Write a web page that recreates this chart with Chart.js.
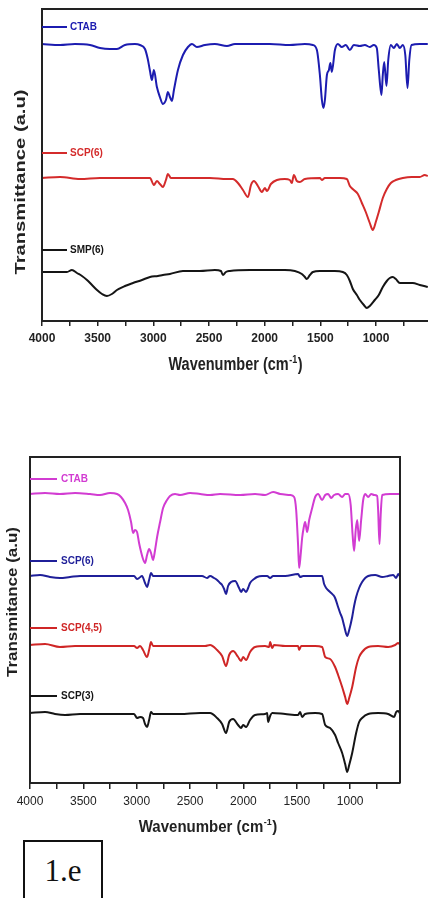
<!DOCTYPE html>
<html>
<head>
<meta charset="utf-8">
<script src="https://cdn.jsdelivr.net/npm/chart.js@4/dist/chart.umd.min.js"></script>
<style>
html,body{margin:0;padding:0;background:#fff;width:428px;height:898px;overflow:hidden;position:relative}
#c1{position:absolute;left:0;top:0}
#c2{position:absolute;left:0;top:440px}
#tag{position:absolute;left:23px;top:840px;width:80px;height:80px;border:2px solid #111;
 font-family:"Liberation Serif","Times New Roman",serif;font-size:31px;line-height:31px;
 text-align:center;padding-top:13px;box-sizing:border-box;color:#111}
</style>
</head>
<body>
<canvas id="c1" width="428" height="380"></canvas>
<canvas id="c2" width="428" height="400"></canvas>
<div id="tag">1.e</div>
<script>
// ---------- DATA (wavenumber in cm-1, transmittance in a.u., offset per curve) ----------
const xTickValues = [4000,3750,3500,3250,3000,2750,2500,2250,2000,1750,1500,1250,1000,750];

// Top panel
const topCTAB_x = [4000,3838,3704,3569,3479,3390,3327,3255,3165,3120, 3075,3050,3030,3013,2995,2968,2941,2914,2887,2869, 2851,2833,2815,2779,2734,2689,2653,2609,2537,2447, 2339,2267,2133,1953,1774,1639,1567,1531,1504,1486, 1472,1459,1441,1423,1410,1397,1369,1343,1307,1271, 1235,1199,1145,1100,1056,1020,993,975,951,939, 926,906,890,867,840,813,786,759,737,717, 701,681,607,535];
const topCTAB_y = [277,276,277,276,273,272,272,276,277,276, 272,262,250,241,251,234,224,217,221,229, 224,220,231,251,266,274,277,274,276,277, 275,277,277,277,276,277,276,271,246,221, 213,221,246,251,258,249,271,277,274,276, 271,276,275,276,274,276,273,251,226,246, 259,235,261,276,273,277,273,276,266,233, 261,276,277,277];

const topSCP6_x = [4000,3838,3659,3479,3300,3120,3030,2995,2968,2941, 2914,2887,2869,2842,2671,2492,2339,2285,2240,2195, 2150,2123,2096,2061,2025,1998,1980,1944,1890,1819, 1774,1756,1738,1711,1684,1639,1504,1486,1459,1325, 1262,1235,1199,1163,1127,1092,1056,1029,1002,975, 939,903,867,822,759,679,607,562,535];
const topSCP6_y = [143,144,142,143,143,143,143,136,140,137, 134,141,147,143,143,143,142,142,138,131, 124,136,140,135,129,133,130,137,141,142, 141,138,146,140,139,142,143,141,143,143, 142,135,131,127,118,109,98,91,99,109, 123,132,138,141,143,144,144,146,145];

const topSMP6_x = [4000,3883,3776,3731,3686,3641,3596,3551,3506,3461, 3417,3372,3327,3255,3183,3102,3030,2959,2914,2851, 2734,2582,2447,2393,2375,2348,2312,2133,1953,1819, 1729,1666,1639,1621,1594,1567,1504,1370,1298,1262, 1235,1208,1172,1145,1109,1083,1056,1011,975,939, 903,876,849,822,786,732,670,607,535];
const topSMP6_y = [49,49,49,51,48,45,41,36,31,27, 25,27,31,35,38,41,44,45,46,47, 50,50,51,50,46,49,50,51,51,51, 50,47,44,42,46,49,50,50,49,46, 40,32,26,21,16,13,15,21,26,34, 40,43,44,42,38,38,38,36,34];

const topNames = ['CTAB','SCP(6)','SMP(6)'];
const topLabelLevels = [294,168,71];

// Bottom panel
const botCTAB_x = [4000,3859,3719,3578,3438,3344,3250,3184,3147,3109, 3081,3053,3034,3016,2997,2978,2959,2941,2922,2903, 2884,2866,2847,2828,2809,2781,2753,2716,2688,2641, 2594,2500,2406,2313,2219,2031,1891,1797,1722,1656, 1563,1525,1506,1488,1478,1464,1450,1436,1422,1403, 1384,1356,1328,1300,1263,1234,1206,1178,1150,1113, 1075,1047,1019,995,977,963,948,934,916,897, 878,859,831,803,775,747,738,725,714,700, 625,531];
const botCTAB_y = [289,290,289,290,289,288,290,289,286,280, 273,261,250,253,251,240,231,224,220,228, 234,230,223,233,246,261,275,283,287,289, 288,290,289,288,289,288,289,288,291,289, 288,286,273,238,215,228,245,255,261,251, 263,275,286,289,283,288,289,285,288,289, 286,289,289,278,248,232,253,263,242,263, 283,289,286,289,288,287,273,239,268,288, 289,289];

const botSCP6_x = [4000,3906,3813,3719,3625,3531,3344,3156,3025,2997, 2978,2950,2922,2903,2884,2866,2847,2688,2500,2388, 2341,2313,2275,2247,2219,2200,2181,2163,2144,2116, 2078,2041,2022,2003,1975,1956,1938,1900,1872,1825, 1778,1750,1722,1609,1488,1469,1441,1328,1263,1244, 1225,1188,1159,1141,1113,1094,1075,1056,1028,1009, 981,963,944,916,888,859,831,766,700,644, 597,569,550,531];
const botSCP6_y = [207,208,206,205,206,207,207,207,207,204, 205,207,200,196,203,210,207,207,207,207, 205,207,205,203,200,198,194,189,197,201, 202,195,191,194,191,195,200,204,206,207, 207,205,207,207,209,206,207,207,207,199, 195,191,188,185,176,170,165,157,147,153, 166,177,186,195,201,205,207,208,206,207, 208,205,209,206];

const botSCP45_x = [4000,3859,3719,3578,3344,3156,3025,2997,2969,2941, 2903,2884,2866,2847,2594,2359,2313,2247,2200,2163, 2134,2097,2050,2022,2003,1975,1938,1891,1797,1759, 1750,1731,1713,1609,1488,1478,1459,1328,1263,1234, 1188,1141,1113,1075,1047,1028,1009,981,944,916, 888,831,738,644,578,550,531];
const botSCP45_y = [138,139,136,137,137,137,137,135,137,133, 126,133,141,137,137,137,138,133,127,117, 128,132,126,122,126,123,131,136,137,136, 141,135,138,137,137,133,137,137,136,126, 124,116,108,96,86,79,85,96,116,126, 131,136,137,136,138,140,138];

const botSCP3_x = [4000,3859,3766,3672,3531,3344,3156,3025,2997,2969, 2941,2922,2903,2884,2866,2847,2594,2406,2313,2247, 2200,2163,2134,2097,2050,2022,2003,1975,1938,1891, 1797,1778,1769,1750,1731,1609,1488,1469,1450,1422, 1328,1263,1234,1188,1141,1113,1075,1047,1028,1009, 981,944,916,888,831,738,644,588,569,550, 531];
const botSCP3_y = [70,71,69,68,69,69,69,69,65,66, 65,59,56,63,71,69,69,70,70,65, 59,50,61,64,58,55,58,56,63,68, 69,70,61,67,70,69,68,71,66,69, 70,69,58,55,48,40,30,19,11,18, 30,50,61,65,69,70,69,66,71,72, 69];

const botNames = ['CTAB','SCP(6)','SCP(4,5)','SCP(3)'];
const botLabelLevels = [304,222,155,87];

// ---------- RENDERING ----------
const FONT = '"Liberation Sans", Arial, Helvetica, sans-serif';
const INK = '#222';

function pts(xs, ys){ return xs.map((x,i)=>({x:x, y:ys[i]})); }

function ds(label, xs, ys, color){
  return {label, data: pts(xs, ys), borderColor: color, backgroundColor: color,
    borderWidth: 2, pointRadius: 0, fill: false, cubicInterpolationMode: 'monotone', clip: 4};
}

function makeDecor(cfg){
  return {
    id: 'decor',
    afterDraw(chart){
      const ctx = chart.ctx, a = chart.chartArea, ys = chart.scales.y;
      ctx.save();
      // frame
      ctx.strokeStyle = INK; ctx.lineWidth = 2;
      ctx.beginPath();
      ctx.moveTo(a.left, a.bottom); ctx.lineTo(a.left, a.top);
      ctx.moveTo(a.left - 1, a.top); ctx.lineTo(a.right + 1, a.top);
      if (cfg.right) { ctx.moveTo(a.right, a.top - 1); ctx.lineTo(a.right, a.bottom); }
      ctx.stroke();
      // series labels
      ctx.font = 'bold 10px ' + FONT;
      ctx.textBaseline = 'middle'; ctx.textAlign = 'left';
      cfg.labels.forEach(l => {
        const y = ys.getPixelForValue(l.level);
        ctx.strokeStyle = l.color; ctx.lineWidth = 2;
        ctx.beginPath(); ctx.moveTo(a.left, y); ctx.lineTo(a.left + cfg.lineLen, y); ctx.stroke();
        ctx.fillStyle = l.color;
        ctx.fillText(l.text, a.left + cfg.lineLen + cfg.gap, y + 0.5);
      });
      // x title with superscript
      const t = cfg.xTitle;
      ctx.save();
      ctx.translate(t.cx, a.bottom + t.dy);
      ctx.scale(1, t.vs);
      ctx.fillStyle = INK; ctx.textBaseline = 'alphabetic'; ctx.textAlign = 'left';
      const p1 = 'Wavenumber (cm', sup = '-1', p3 = ')';
      ctx.font = 'bold ' + t.size + 'px ' + FONT;
      const w1 = ctx.measureText(p1).width, w3 = ctx.measureText(p3).width;
      const supSize = Math.round(t.size * 0.62);
      ctx.font = 'bold ' + supSize + 'px ' + FONT;
      const ws = ctx.measureText(sup).width;
      const x0 = -(w1 + ws + w3 + 1) / 2;
      ctx.font = 'bold ' + t.size + 'px ' + FONT;
      ctx.fillText(p1, x0, 0);
      ctx.font = 'bold ' + supSize + 'px ' + FONT;
      ctx.fillText(sup, x0 + w1 + 0.5, -t.size * 0.42);
      ctx.font = 'bold ' + t.size + 'px ' + FONT;
      ctx.fillText(p3, x0 + w1 + ws + 1, 0);
      ctx.restore();
      // y title (rotated)
      const yt = cfg.yTitle;
      ctx.save();
      ctx.translate(yt.x, yt.cy);
      ctx.rotate(-Math.PI / 2);
      ctx.font = 'bold ' + yt.size + 'px ' + FONT;
      const w = ctx.measureText(yt.text).width;
      ctx.scale(yt.length / w, 1);
      ctx.fillStyle = INK; ctx.textAlign = 'center'; ctx.textBaseline = 'alphabetic';
      ctx.fillText(yt.text, 0, 0);
      ctx.restore();
      ctx.restore();
    }
  };
}

function xScale(axisH, bold, tickLen){
  return {
    type: 'linear', reverse: true, min: 533, max: 4000,
    afterBuildTicks: s => { s.ticks = xTickValues.map(v => ({value: v})); },
    afterFit: s => { s.height = axisH; },
    grid: {display: true, drawOnChartArea: false, drawTicks: true, tickLength: tickLen, color: INK, lineWidth: 1.5},
    border: {display: true, color: INK, width: 2},
    ticks: {
      callback: v => (v % 500 === 0 ? String(v) : ''),
      font: {family: FONT, size: 12, weight: bold ? 'bold' : 'normal'},
      color: INK, padding: 5, maxRotation: 0, autoSkip: false
    }
  };
}

const common = {
  responsive: false, animation: false, devicePixelRatio: 1,
  plugins: {legend: {display: false}, tooltip: {enabled: false}},
  elements: {line: {tension: 0.3}}
};

// Top chart
const topColors = ['#1c1cb0', '#d42b2b', '#151515'];
new Chart(document.getElementById('c1'), {
  type: 'line',
  data: {datasets: [
    ds(topNames[0], topCTAB_x, topCTAB_y, topColors[0]),
    ds(topNames[1], topSCP6_x, topSCP6_y, topColors[1]),
    ds(topNames[2], topSMP6_x, topSMP6_y, topColors[2])
  ]},
  options: Object.assign({}, common, {
    layout: {padding: {left: 42, top: 9, right: 0, bottom: 0}},
    scales: {
      x: xScale(59, true, 5),
      y: {display: false, min: 0, max: 312}
    }
  }),
  plugins: [makeDecor({
    right: false, lineLen: 25, gap: 3,
    labels: topNames.map((n, i) => ({text: n, color: topColors[i], level: topLabelLevels[i]})),
    xTitle: {cx: 235.5, dy: 49, size: 14.5, vs: 1.22},
    yTitle: {text: 'Transmittance (a.u)', x: 25, cy: 182, length: 185, size: 15}
  })]
});

// Bottom chart
const botColors = ['#d23cd2', '#1f1f99', '#cf2626', '#151515'];
new Chart(document.getElementById('c2'), {
  type: 'line',
  data: {datasets: [
    ds(botNames[0], botCTAB_x, botCTAB_y, botColors[0]),
    ds(botNames[1], botSCP6_x, botSCP6_y, botColors[1]),
    ds(botNames[2], botSCP45_x, botSCP45_y, botColors[2]),
    ds(botNames[3], botSCP3_x, botSCP3_y, botColors[3])
  ]},
  options: Object.assign({}, common, {
    layout: {padding: {left: 30, top: 17, right: 28, bottom: 0}},
    scales: {
      x: xScale(57, false, 6),
      y: {display: false, min: 0, max: 326}
    }
  }),
  plugins: [makeDecor({
    right: true, lineLen: 27, gap: 4,
    labels: botNames.map((n, i) => ({text: n, color: botColors[i], level: botLabelLevels[i]})),
    xTitle: {cx: 208, dy: 49, size: 15, vs: 1.1},
    yTitle: {text: 'Transmitance (a.u)', x: 17, cy: 162, length: 150, size: 14}
  })]
});
</script>
</body>
</html>
